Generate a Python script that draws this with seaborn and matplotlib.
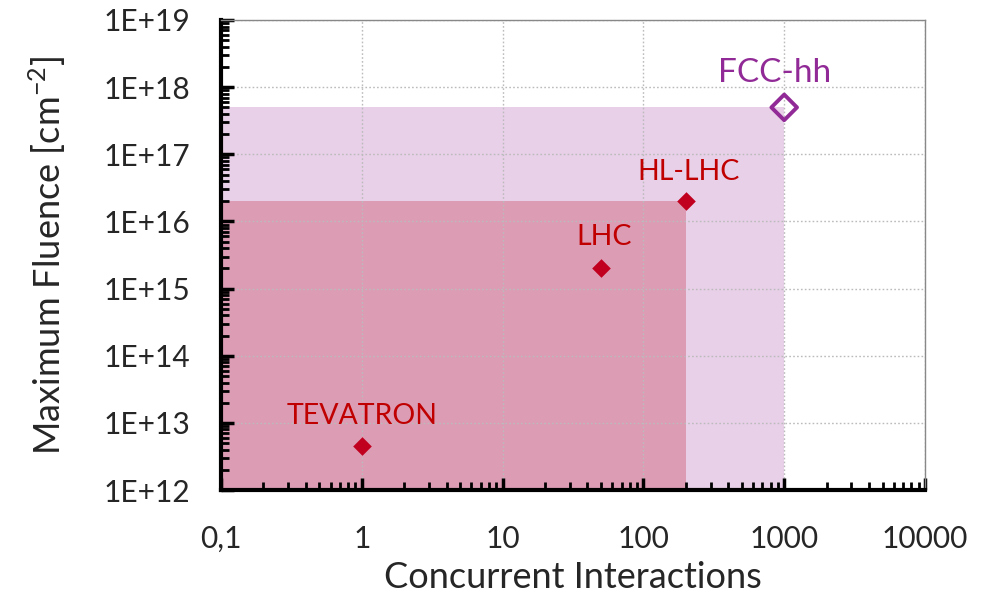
import matplotlib
matplotlib.use("Agg")
import matplotlib.pyplot as plt
import matplotlib.ticker as mticker
from matplotlib.patches import Rectangle
import seaborn as sns
import pandas as pd
import numpy as np

# Colliders: pile-up vs. maximum fluence
machines = ["TEVATRON", "LHC", "HL-LHC", "FCC-hh"]
interactions = [1, 50, 200, 1000]
fluence = [4.5e12, 2e15, 2e16, 5e17]

x_ticks = [0.1, 1, 10, 100, 1000, 10000]
x_tick_labels = ["0,1", "1", "10", "100", "1000", "10000"]
y_ticks = [1e12, 1e13, 1e14, 1e15, 1e16, 1e17, 1e18, 1e19]
y_tick_labels = ["1E+12", "1E+13", "1E+14", "1E+15", "1E+16", "1E+17", "1E+18", "1E+19"]

RED = "#C0001E"
RED_TEXT = "#C00000"
PURPLE = "#912A96"

sns.set_style("white")
plt.rcParams["font.family"] = ["Lato", "DejaVu Sans"]

fig = plt.figure(figsize=(9.83, 5.97), dpi=100)
ax = fig.add_axes([0.2248, 0.179, 0.7162, 0.7875])
ax.set_xscale("log")
ax.set_yscale("log")
ax.set_xlim(x_ticks[0], x_ticks[-1])
ax.set_ylim(y_ticks[0], y_ticks[-1])

# Reach of FCC-hh and HL-LHC shaded from the origin of the axes
ax.add_patch(Rectangle((x_ticks[0], y_ticks[0]), interactions[3] - x_ticks[0],
                       fluence[3] - y_ticks[0], facecolor="#E8D0E8",
                       edgecolor="none", zorder=0.2))
ax.add_patch(Rectangle((x_ticks[0], y_ticks[0]), interactions[2] - x_ticks[0],
                       fluence[2] - y_ticks[0], facecolor="#DC9CB4",
                       edgecolor="none", zorder=0.3))

ax.set_axisbelow(True)
ax.grid(True, which="major", color="#BBBBBB", linestyle=(0, (1.2, 1.6)), linewidth=1.0)

df = pd.DataFrame({"machine": machines, "x": interactions, "y": fluence})
sns.scatterplot(data=df.iloc[:3], x="x", y="y", marker="D", s=90, color=RED,
                edgecolor=RED, linewidth=0, ax=ax, zorder=4, legend=False)
sns.scatterplot(data=df.iloc[3:], x="x", y="y", marker="D", s=170, facecolor="none",
                edgecolor=PURPLE, linewidth=2.8, ax=ax, zorder=4, legend=False)

# Labels above each marker: (dx, dy) in points to the baseline, font size
label_style = {
    "TEVATRON": (0, 16, 20.5, RED_TEXT),
    "LHC": (2, 17, 20.5, RED_TEXT),
    "HL-LHC": (2, 15, 20.5, RED_TEXT),
    "FCC-hh": (-7, 18, 24, PURPLE),
}
for name, xv, yv in zip(machines, interactions, fluence):
    dx, dy, fs, color = label_style[name]
    ax.annotate(name, (xv, yv), xytext=(dx, dy), textcoords="offset points",
                ha="center", va="baseline", fontsize=fs, color=color)

ax.set_xticks(x_ticks)
ax.set_xticklabels(x_tick_labels)
ax.set_yticks(y_ticks)
ax.set_yticklabels(y_tick_labels)
ax.xaxis.set_minor_locator(mticker.LogLocator(base=10, subs=np.arange(2, 10), numticks=20))
ax.yaxis.set_minor_locator(mticker.LogLocator(base=10, subs=np.arange(2, 10), numticks=20))
ax.xaxis.set_minor_formatter(mticker.NullFormatter())
ax.yaxis.set_minor_formatter(mticker.NullFormatter())

ax.tick_params(axis="both", which="major", direction="in", length=9, width=2.5,
               color="black", labelsize=21.5, bottom=True, left=True,
               top=False, right=False)
ax.tick_params(axis="both", which="minor", direction="in", length=6, width=2,
               color="black", bottom=True, left=True, top=False, right=False)
ax.tick_params(axis="x", which="major", pad=25)
ax.tick_params(axis="y", which="major", pad=22)

for side in ["left", "bottom"]:
    ax.spines[side].set_linewidth(3)
    ax.spines[side].set_color("black")
for side in ["top", "right"]:
    ax.spines[side].set_linewidth(1)
    ax.spines[side].set_color("#888888")
    ax.spines[side].set_visible(True)

ax.set_xlabel("Concurrent Interactions", fontsize=26, labelpad=6)
ax.set_ylabel("Maximum Fluence [cm$^{\\mathregular{-2}}$]", fontsize=26, labelpad=26)

fig.savefig("out.png", dpi=100)
